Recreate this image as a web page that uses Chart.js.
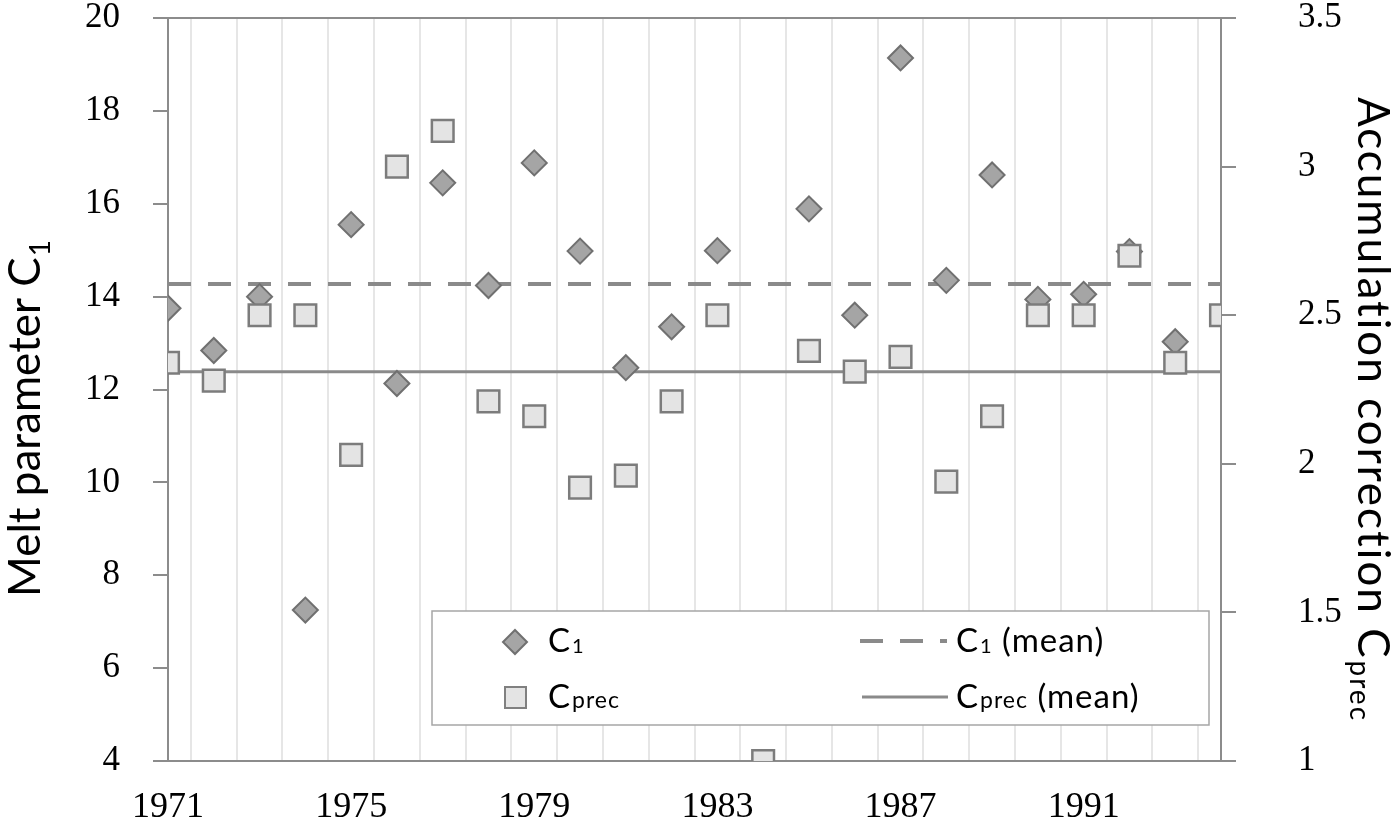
<!DOCTYPE html>
<html>
<head>
<meta charset="utf-8">
<script src="https://cdn.jsdelivr.net/npm/chart.js@4.4.1/dist/chart.umd.min.js"></script>
<style>
  html, body { margin: 0; padding: 0; background: #fff; }
  #wrap { width: 1400px; height: 823px; }
</style>
</head>
<body>
<div id="wrap"><canvas id="chart"></canvas></div>
<script>
// Data
const years = [1971, 1972, 1973, 1974, 1975, 1976, 1977, 1978, 1979, 1980, 1981, 1982,
               1983, 1984, 1985, 1986, 1987, 1988, 1989, 1990, 1991, 1992, 1993, 1994];
const c1Values = [13.75, 12.84, 14.0, 7.25, 15.55, 12.13, 16.45, 14.24, 16.88, 14.98, 12.47, 13.35,
                  14.99, null, 15.89, 13.6, 19.14, 14.35, 16.62, 13.94, 14.05, 14.97, 13.03, null];
const cprecValues = [2.34, 2.28, 2.5, 2.5, 2.03, 3.0, 3.12, 2.21, 2.16, 1.92, 1.96, 2.21,
                     2.5, 1.0, 2.38, 2.31, 2.36, 1.94, 2.16, 2.5, 2.5, 2.7, 2.34, 2.5];
const c1Mean = 14.27;
const cprecMean = 2.31;
const yearLabels = [1971, 1975, 1979, 1983, 1987, 1991];

const axisGray = '#8c8c8c';
const lineGray = '#8a8a8a';
const sans = 'Lato';
const serif = 'Liberation Serif';

// text with a subscript, returns total width
function subText(ctx, x, y, main, sub, size, subSize, drop, tail) {
    ctx.font = size + 'px ' + sans;
    ctx.fillText(main, x, y);
    let w = ctx.measureText(main).width;
    ctx.font = subSize + 'px ' + sans;
    ctx.fillText(sub, x + w + 1, y + drop);
    w += ctx.measureText(sub).width + 1;
    if (tail) {
        ctx.font = size + 'px ' + sans;
        ctx.fillText(tail, x + w, y);
        w += ctx.measureText(tail).width;
    }
    return w;
}

const extras = {
    id: 'extras',
    afterDatasetsDraw(chart) {
        const ctx = chart.ctx;
        ctx.save();
        // legend box
        ctx.fillStyle = '#fff';
        ctx.fillRect(432, 611, 777, 114);
        ctx.strokeStyle = '#a6a6a6';
        ctx.lineWidth = 1.5;
        ctx.strokeRect(432, 611, 777, 114);

        // diamond marker
        ctx.beginPath();
        ctx.moveTo(515, 630); ctx.lineTo(527, 642); ctx.lineTo(515, 654); ctx.lineTo(503, 642);
        ctx.closePath();
        ctx.fillStyle = '#a5a5a5'; ctx.fill();
        ctx.strokeStyle = '#707070'; ctx.lineWidth = 2; ctx.stroke();

        // square marker
        ctx.fillStyle = '#e4e4e4';
        ctx.fillRect(505, 687, 21, 21);
        ctx.strokeStyle = '#808080'; ctx.lineWidth = 2;
        ctx.strokeRect(505, 687, 21, 21);

        // dashed and solid samples
        ctx.strokeStyle = lineGray;
        ctx.lineWidth = 4;
        ctx.setLineDash([23, 17]);
        ctx.beginPath(); ctx.moveTo(860, 641); ctx.lineTo(947, 641); ctx.stroke();
        ctx.setLineDash([]);
        ctx.lineWidth = 3;
        ctx.beginPath(); ctx.moveTo(862, 697); ctx.lineTo(948, 697); ctx.stroke();

        ctx.fillStyle = '#000';
        ctx.textBaseline = 'alphabetic';
        ctx.textAlign = 'left';
        ctx.letterSpacing = '1px';
        subText(ctx, 548, 652, 'C', '1', 33, 20, 1);
        subText(ctx, 548, 708, 'C', 'prec', 33, 23, 0);
        subText(ctx, 956, 652, 'C', '1', 33, 20, 1, ' (mean)');
        subText(ctx, 956, 708, 'C', 'prec', 33, 23, 0, ' (mean)');
        ctx.restore();
    },
    afterDraw(chart) {
        const ctx = chart.ctx;
        ctx.save();
        ctx.fillStyle = '#000';
        ctx.textBaseline = 'alphabetic';
        ctx.textAlign = 'left';
        // left axis title, reads bottom to top
        ctx.translate(40, 597);
        ctx.rotate(-Math.PI / 2);
        subText(ctx, 0, 0, 'Melt parameter C', '1', 44, 28, 10);
        ctx.restore();

        ctx.save();
        ctx.fillStyle = '#000';
        ctx.textBaseline = 'alphabetic';
        ctx.textAlign = 'left';
        ctx.letterSpacing = '2px';
        // right axis title, reads top to bottom
        ctx.translate(1358, 97);
        ctx.rotate(Math.PI / 2);
        subText(ctx, 0, 0, 'Accumulation correction C', 'prec', 44, 28, 8);
        ctx.restore();
    }
};

const noEdgePadding = (s) => { s.paddingTop = 0; s.paddingBottom = 0; };

const ctx = document.getElementById('chart').getContext('2d');
const chart = new Chart(ctx, {
    type: 'scatter',
    data: {
        datasets: [
            {
                label: 'C1 (mean)',
                data: [{ x: years[0], y: c1Mean }, { x: years[years.length - 1], y: c1Mean }],
                showLine: true,
                borderColor: lineGray,
                borderWidth: 4,
                borderDash: [23, 17],
                pointRadius: 0,
                yAxisID: 'y',
                order: 10
            },
            {
                label: 'Cprec (mean)',
                data: [{ x: years[0], y: cprecMean }, { x: years[years.length - 1], y: cprecMean }],
                showLine: true,
                borderColor: lineGray,
                borderWidth: 3,
                pointRadius: 0,
                yAxisID: 'y1',
                order: 9
            },
            {
                label: 'C1',
                data: years.map((x, i) => ({ x: x, y: c1Values[i] })),
                pointStyle: 'rectRot',
                pointRadius: 12.5,
                backgroundColor: '#a5a5a5',
                borderColor: '#707070',
                borderWidth: 2,
                yAxisID: 'y',
                order: 5
            },
            {
                label: 'Cprec',
                data: years.map((x, i) => ({ x: x, y: cprecValues[i] })),
                pointStyle: 'rect',
                pointRadius: 15.3,
                backgroundColor: '#e4e4e4',
                borderColor: '#7c7c7c',
                borderWidth: 2.5,
                yAxisID: 'y1',
                order: 1
            }
        ]
    },
    options: {
        responsive: true,
        maintainAspectRatio: false,
        animation: false,
        layout: { padding: { top: 18, left: 0, right: 0, bottom: 0 } },
        plugins: {
            legend: { display: false },
            tooltip: { enabled: false }
        },
        scales: {
            x: {
                type: 'linear',
                min: 1971,
                max: 1994,
                afterBuildTicks: (s) => {
                    s.ticks = [];
                    for (let v = 1971; v <= 1994; v += 0.5) s.ticks.push({ value: v });
                },
                afterFit: (s) => { s.height = 62; s.paddingLeft = 0; s.paddingRight = 0; },
                grid: {
                    color: (c) => (c.tick && c.tick.value % 1 !== 0) ? '#e6e6e6' : 'rgba(0,0,0,0)',
                    lineWidth: 2,
                    drawTicks: false
                },
                border: { color: axisGray, width: 2 },
                ticks: {
                    autoSkip: false,
                    maxRotation: 0,
                    padding: 25,
                    color: '#000',
                    font: { family: serif, size: 36 },
                    callback: (v) => yearLabels.includes(v) ? String(v) : ''
                }
            },
            y: {
                position: 'left',
                min: 4,
                max: 20,
                afterFit: (s) => { s.width = 168; noEdgePadding(s); },
                grid: {
                    color: (c) => (c.tick && (c.tick.value === 4 || c.tick.value === 20)) ? axisGray : 'rgba(0,0,0,0)',
                    tickColor: axisGray,
                    tickLength: 15,
                    lineWidth: 2
                },
                border: { color: axisGray, width: 2 },
                ticks: {
                    stepSize: 2,
                    padding: 33,
                    color: '#000',
                    font: { family: serif, size: 35, lineHeight: 1 }
                }
            },
            y1: {
                position: 'right',
                min: 1,
                max: 3.5,
                afterFit: (s) => { s.width = 179; noEdgePadding(s); },
                grid: {
                    drawOnChartArea: false,
                    tickColor: axisGray,
                    tickLength: 15,
                    lineWidth: 2
                },
                border: { color: axisGray, width: 2 },
                ticks: {
                    stepSize: 0.5,
                    padding: 62,
                    color: '#000',
                    font: { family: serif, size: 35, lineHeight: 1 },
                    callback: (v) => String(v)
                }
            }
        }
    },
    plugins: [extras]
});
</script>
</body>
</html>
